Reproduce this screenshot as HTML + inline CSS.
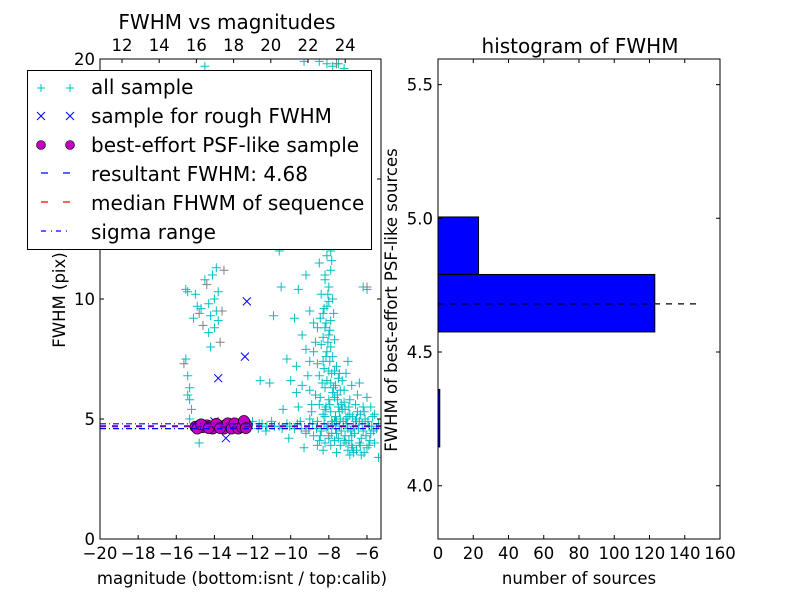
<!DOCTYPE html>
<html><head><meta charset="utf-8"><style>
body{margin:0;background:#fff}
svg{font-family:"DejaVu Sans","Liberation Sans",sans-serif;display:block}
</style></head><body>
<svg id="c" width="800" height="600" xmlns="http://www.w3.org/2000/svg">
<rect width="800" height="600" fill="#fff"/>
<g id="left"></g>
<g id="right"></g>
</svg>
<script>
const allSample=[[-8.3,15],[-8.1,14.5],[-8.4,14],[-8.2,13.2],[-8.0,12.8],[-8.3,12.2],[-8.1,11.8],[-8.5,11.5],[-7.9,11.2],[-8.2,10.8],[-8.0,10.5],[-8.4,10.2],[-7.8,10],[-8.1,9.7],[-8.3,9.4],[-7.9,9.1],[-8.2,8.8],[-8.0,8.5],[-7.7,8.3],[-8.4,8.1],[-8.1,7.8],[-7.8,7.6],[-8.3,7.4],[-7.6,7.2],[-8.0,7.0],[-8.5,6.8],[-7.5,6.7],[-7.9,6.5],[-8.2,6.3],[-7.4,6.2],[-8.7,6.0],[-7.7,5.9],[-8.0,5.8],[-7.2,5.7],[-8.9,5.6],[-7.5,5.5],[-8.2,5.4],[-7.8,6.1],[-8.1,6.6],[-7.7,7.0],[-8.3,8.4],[-7.9,8.0],[-8.6,7.3],[-8.0,9.9],[-7.9,12.0],[-8.2,11.0],[-9.2,11],[-9.6,10.4],[-10.5,10.5],[-9,9.5],[-9.8,9.2],[-10.9,9.3],[-9.4,8.5],[-10.2,7.5],[-9.7,7.2],[-11.6,6.6],[-11.1,6.5],[-10.6,12],[-9.9,12.5],[-6.2,10.5],[-6.0,10.4],[-9.3,13],[-8.7,13.5],[-8.9,14.5],[-9.5,14.2],[-10.3,13.8],[-8.5,19.9],[-8.1,19.8],[-7.8,19.7],[-7.5,19.8],[-7.2,19.6],[-14.5,19.7],[-9.3,19.9],[-15.5,7.5],[-15.4,6.8],[-15.3,6.3],[-15.4,6.0],[-15.3,5.8],[-15.5,10.4],[-15.4,10.3],[-15.0,10.2],[-14.9,9.7],[-15.1,9.2],[-14.7,9.6],[-14.5,10.8],[-14.1,11],[-13.9,11.3],[-13.8,10.3],[-14.0,10],[-14.3,9.8],[-14.2,9.3],[-13.9,9.5],[-14.0,8.8],[-14.3,8.6],[-14.2,8.0],[-13.8,9.1],[-14.8,4.0],[-15.3,5.0],[-15.2,5.4],[-11.5,4.8],[-11.0,4.9],[-10.6,4.7],[-10.2,4.8],[-9.8,4.6],[-9.5,4.9],[-9.2,4.4],[-9.0,5.0],[-8.8,4.3],[-8.6,4.9],[-8.4,4.5],[-8.2,5.1],[-8.0,4.2],[-7.8,4.8],[-7.6,4.4],[-7.4,5.0],[-7.2,4.1],[-7.0,4.6],[-6.8,4.3],[-6.6,4.9],[-6.4,4.0],[-6.2,4.5],[-6.0,3.8],[-5.8,4.4],[-5.6,4.0],[-5.4,3.4],[-8.9,5.3],[-8.5,5.6],[-8.3,5.2],[-8.1,4.6],[-7.9,5.3],[-7.7,4.9],[-7.5,4.2],[-7.3,5.4],[-7.1,5.0],[-6.9,5.2],[-6.7,4.7],[-6.5,5.3],[-6.3,4.2],[-6.1,5.0],[-5.9,4.7],[-5.7,5.1],[-5.5,4.6],[-7.2,6.2],[-6.9,5.8],[-6.5,6.0],[-6.2,5.5],[-6.8,3.9],[-7.0,3.7],[-7.4,3.9],[-8.6,3.9],[-9.3,3.8],[-10.1,4.2],[-9.6,5.5],[-10.4,5.4],[-9.0,6.2],[-9.1,6.8],[-8.8,7.8],[-7.3,6.6],[-7.0,7.4],[-6.6,5.6],[-5.6,5.2],[-5.4,4.8],[-7.6,3.6],[-8.2,4.0],[-12.0,4.9],[-11.7,4.6],[-12.3,4.7],[-11.3,4.5],
[-8.15,9.0],[-8.05,8.2],[-7.95,7.4],[-8.25,7.1],[-7.85,6.9],[-8.35,6.5],[-7.65,6.4],[-8.45,5.9],[-7.55,5.8],[-7.95,5.6],[-8.15,5.5],[-7.45,5.3],[-7.65,5.1],[-7.85,4.9],[-8.05,4.7],[-7.25,4.9],[-7.05,4.8],[-6.85,4.5],[-6.65,4.4],[-6.45,4.6],[-6.25,4.8],[-6.05,4.3],[-5.85,4.1],[-5.65,4.5],[-7.35,4.5],[-7.15,4.3],[-6.95,4.1],[-6.75,3.8],[-6.55,3.7],[-6.35,3.9],[-6.15,3.6],[-7.45,4.7],[-7.65,4.6],[-7.85,4.4],[-8.25,4.8],[-8.45,4.3],[-8.65,4.6],[-8.85,4.8],[-9.05,4.6],[-9.45,4.6],[-9.65,4.8],[-10.05,4.7],[-10.45,4.6],[-10.85,4.7],[-11.25,4.7],[-11.65,4.8],[-7.55,6.0],[-7.35,5.6],[-7.15,5.4],[-6.95,5.5],[-6.75,5.1],[-6.55,5.0],[-6.35,5.2],[-6.15,5.3],[-5.95,4.9],[-5.75,4.7],[-7.75,6.3],[-7.45,6.9],[-8.15,7.6],[-7.95,8.7],[-8.25,9.6],[-8.05,10.2],[-7.75,9.4],[-8.45,9.2],[-7.85,11.6],[-8.35,13.0],[-8.15,13.8],[-7.95,14.8],[-8.6,8.8],[-8.7,8.2],[-8.8,9.0],[-9.0,7.4],[-9.2,7.9],[-9.4,6.4],[-9.7,6.1],[-10.0,6.6],[-7.1,6.9],[-6.8,6.4],[-6.4,6.5],[-6.0,5.9],[-5.8,5.5],[-8.5,4.1],[-8.3,3.7],[-7.9,3.9],[-7.7,4.1],[-7.1,4.0],[-6.9,3.5],[-6.7,3.6],[-6.3,3.5],[-5.9,3.9],[-7.6,4.9],[-7.0,5.1],[-6.4,4.9]];
const graySample=[[-15.6,7.3],[-14.8,9.4],[-13.6,9.5],[-13.5,11.2],[-14.6,8.9],[-7.6,19.8],[-6.0,10.5],[-10.4,12.6],[-9.2,4.5],[-8.0,4.3],[-14.4,10.6],[-13.7,8.2]];
const roughSample=[[-12.3,9.9],[-12.4,7.6],[-13.8,6.7],[-13.4,4.2],[-14.0,4.9],[-13.2,4.8],[-12.6,4.7]];
const psfSample=[[-15.0,4.68],[-14.8,4.72],[-14.6,4.66],[-14.4,4.74],[-14.2,4.7],[-14.0,4.65],[-13.8,4.73],[-13.6,4.69],[-13.4,4.76],[-13.2,4.67],[-13.0,4.72],[-12.9,4.66],[-12.8,4.74],[-12.7,4.7],[-12.6,4.8],[-12.5,4.75],[-12.4,4.85],[-12.3,4.72],[-14.1,4.6],[-13.5,4.6],[-14.9,4.6],[-14.7,4.78],[-14.3,4.62],[-13.9,4.8],[-13.7,4.62],[-13.3,4.82],[-13.1,4.6],[-12.95,4.82],[-12.75,4.6],[-12.55,4.66],[-12.45,4.92],[-12.35,4.62]];
const resultFWHM=4.68, medianFWHM=4.72, sigmaLow=4.6, sigmaHigh=4.8;
const binEdges=[4.145,4.36,4.575,4.79,5.005];
const binCounts=[1,0,123,23];
const xTicks=[-20,-18,-16,-14,-12,-10,-8,-6];
const yTicks=[0,5,10,15,20];
const topTicks=[12,14,16,18,20,22,24];
const histYTicks=[4.0,4.5,5.0,5.5];
const histXTicks=[0,20,40,60,80,100,120,140,160];

const NS='http://www.w3.org/2000/svg';
function mk(p,t,a){const e=document.createElementNS(NS,t);for(const k in a)e.setAttribute(k,a[k]);p.appendChild(e);return e;}
const L=document.getElementById('left'),R=document.getElementById('right');
const lx0=100,lx1=381,ly0=59,ly1=539;
const xs=m=>lx0+(m+20)*19.07;
const ys=f=>ly1-f*24;
const ts=c=>122+(c-12)*18.6;
const clipD=mk(L,'clipPath',{id:'lc'});mk(clipD,'rect',{x:lx0,y:ly0,width:lx1-lx0,height:ly1-ly0});
const pts=mk(L,'g',{'clip-path':'url(#lc)'});
function plus(x,y,col){return mk(pts,'path',{d:`M${x-4.5} ${y}H${x+4.5}M${x} ${y-4.5}V${y+4.5}`,stroke:col,'stroke-width':1,fill:'none'});}
allSample.forEach(p=>{const e=plus(xs(p[0]),ys(p[1]),'#00bfbf');

});
graySample.forEach(p=>{const e=plus(xs(p[0]),ys(p[1]),'#808080');

});
roughSample.forEach(p=>{const x=xs(p[0]),y=ys(p[1]);const e=mk(pts,'path',{d:`M${x-4} ${y-4}L${x+4} ${y+4}M${x-4} ${y+4}L${x+4} ${y-4}`,stroke:'#0000ff','stroke-width':1});

});
psfSample.forEach(p=>{const e=mk(pts,'circle',{cx:xs(p[0]),cy:ys(p[1]),r:5.5,fill:'#bf00bf',stroke:'#000','stroke-width':0.6});

});
function hl(v,col,dash,name){const e=mk(pts,'line',{x1:lx0,x2:lx1,y1:ys(v),y2:ys(v),stroke:col,'stroke-width':1.2,'stroke-dasharray':dash});

}
hl(resultFWHM,'#0000ff','6 6','resultant-fwhm-line');
hl(medianFWHM,'#ff0000','6 6','median-fwhm-line');
hl(sigmaLow,'#0000ff','6 3 1 3','sigma-low-line');
hl(sigmaHigh,'#0000ff','6 3 1 3','sigma-high-line');
mk(L,'rect',{x:lx0,y:ly0,width:lx1-lx0,height:ly1-ly0,fill:'none',stroke:'#000','stroke-width':1});
xTicks.forEach(t=>{const x=xs(t);mk(L,'path',{d:`M${x} ${ly1}v-4`,stroke:'#000'});
const e=mk(L,'text',{x:x,y:559,'font-size':16.5,'text-anchor':'middle'});e.textContent=(t<0?'\u2212'+(-t):t);

});
yTicks.forEach(t=>{const y=ys(t);mk(L,'path',{d:`M${lx0} ${y}h4M${lx1} ${y}h-4`,stroke:'#000'});
const e=mk(L,'text',{x:95,y:y+6,'font-size':16.5,'text-anchor':'end'});e.textContent=t;

});
topTicks.forEach(t=>{const x=ts(t);mk(L,'path',{d:`M${x} ${ly0}v4`,stroke:'#000'});
const e=mk(L,'text',{x:x,y:51,'font-size':16.5,'text-anchor':'middle'});e.textContent=t;

});
const rx0=438,rx1=720,ry0=59,ry1=539;
const hx=c=>rx0+c*(rx1-rx0)/160;
const hy=v=>352-(v-4.5)*267.4;
binCounts.forEach((c,i)=>{if(c<=0)return;const y0=hy(binEdges[i+1]),y1=hy(binEdges[i]);
const e=mk(R,'rect',{x:rx0,y:y0,width:Math.max(hx(c)-rx0,1.5),height:y1-y0,fill:'#0000ff',stroke:'#000','stroke-width':1});

});
const dl=mk(R,'line',{x1:rx0,x2:hx(147),y1:hy(resultFWHM),y2:hy(resultFWHM),stroke:'#000','stroke-width':1.2,'stroke-dasharray':'6 6'});


mk(R,'rect',{x:rx0,y:ry0,width:rx1-rx0,height:ry1-ry0,fill:'none',stroke:'#000','stroke-width':1});
histXTicks.forEach(t=>{const x=hx(t);mk(R,'path',{d:`M${x} ${ry1}v-4M${x} ${ry0}v4`,stroke:'#000'});
const e=mk(R,'text',{x:x,y:559,'font-size':16.5,'text-anchor':'middle'});e.textContent=t;

});
histYTicks.forEach(t=>{const y=hy(t);mk(R,'path',{d:`M${rx0} ${y}h4M${rx1} ${y}h-4`,stroke:'#000'});
const e=mk(R,'text',{x:433,y:y+6,'font-size':16.5,'text-anchor':'end'});e.textContent=t.toFixed(1);

});
</script>
<svg width="800" height="600" style="position:absolute;left:0;top:0">
<g font-family="DejaVu Sans, Liberation Sans, sans-serif">
<text x="227" y="29" font-size="20" text-anchor="middle">FWHM vs magnitudes</text>
<text x="580" y="53" font-size="20" text-anchor="middle">histogram of FWHM</text>
<text x="242" y="584" font-size="16.5" text-anchor="middle">magnitude (bottom:isnt / top:calib)</text>
<text x="579" y="584" font-size="16.5" text-anchor="middle">number of sources</text>
<text transform="translate(65,300) rotate(-90)" font-size="16.5" text-anchor="middle">FWHM (pix)</text>
<text transform="translate(397,300) rotate(-90)" font-size="16.5" text-anchor="middle">FWHM of best-effort PSF-like sources</text>
<g>
<rect x="27.5" y="70.5" width="344" height="179" fill="#fff" stroke="#000"/>
<g font-size="20">
<path d="M37 88h8M41 84v8M66 88h8M70 84v8" stroke="#00bfbf"/>
<text x="91" y="94">all sample</text>
<path d="M37 112l8 8M37 120l8-8M66 112l8 8M66 120l8-8" stroke="#00f"/>
<text x="91" y="123">sample for rough FWHM</text>
<circle cx="41" cy="145" r="4.5" fill="#bf00bf" stroke="#000" stroke-width="0.6"/><circle cx="70" cy="145" r="4.5" fill="#bf00bf" stroke="#000" stroke-width="0.6"/>
<text x="91" y="152">best-effort PSF-like sample</text>
<path d="M41 173h7M63 173h7" stroke="#00f" stroke-width="1.2"/>
<text x="91" y="181">resultant FWHM: 4.68</text>
<path d="M41 202h7M63 202h7" stroke="#f00" stroke-width="1.2"/>
<text x="91" y="210">median FHWM of sequence</text>
<path d="M41 231h5M51 231h1M56 231h5M66 231h1" stroke="#00f" stroke-width="1.2"/>
<text x="91" y="239">sigma range</text>
</g></g></g></svg>
</body></html>
